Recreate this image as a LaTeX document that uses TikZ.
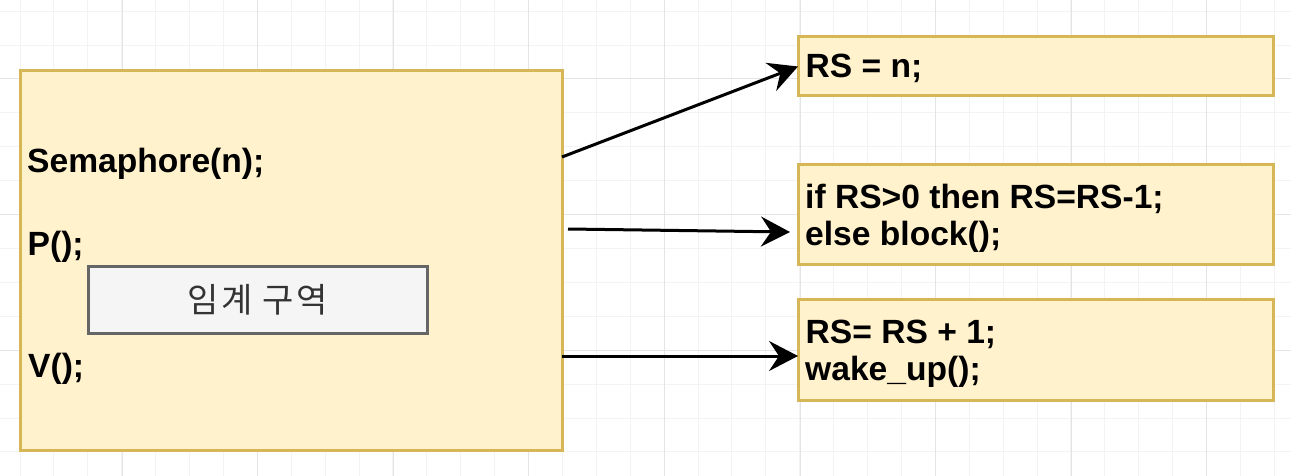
\documentclass[tikz,border=0pt]{standalone}
\usepackage{fontspec}
\setmainfont{Liberation Sans}
\newfontfamily\krfont[LetterSpace=7.5]{Noto Sans CJK KR}
\usetikzlibrary{arrows.meta}
\definecolor{boxfill}{HTML}{FFF2CC}
\definecolor{boxline}{HTML}{D6B656}
\definecolor{crfill}{HTML}{F5F5F5}
\definecolor{crline}{HTML}{666666}
\definecolor{crtext}{HTML}{333333}
\definecolor{gridminor}{HTML}{F3F3F3}
\definecolor{gridmajor}{HTML}{E4E4E4}
\begin{document}
\begin{tikzpicture}[x=1pt,y=-1pt,
  ybox/.style={draw=boxline, fill=boxfill, line width=3pt, anchor=north west, inner sep=0pt, outer sep=0pt},
  crbox/.style={draw=crline, fill=crfill, line width=3pt, anchor=north west, inner sep=0pt, outer sep=0pt,
    text=crtext, font=\krfont\fontsize{34}{40}\selectfont},
  code/.style={font=\fontsize{33.6}{37}\selectfont\bfseries, anchor=base west, inner sep=0pt},
  conn/.style={line width=3pt, -{Stealth[length=29pt,width=30pt,inset=10pt]}},
  gmin/.style={draw=gridminor, line width=1pt},
  gmaj/.style={draw=gridmajor, line width=1pt}]
\useasboundingbox (0,0) rectangle (1291,476);
\fill[white] (0,0) rectangle (1291,476);
% grid
\foreach \k [evaluate=\k as \xx using 20+\k*33.9] in {0,...,37} {\draw[gmin] (\xx,0) -- (\xx,476);}
\foreach \k [evaluate=\k as \yy using 11.2+\k*33.9] in {0,...,13} {\draw[gmin] (0,\yy) -- (1291,\yy);}
\foreach \k [evaluate=\k as \xx using 122+\k*135.6] in {0,...,8} {\draw[gmaj] (\xx,0) -- (\xx,476);}
\foreach \k [evaluate=\k as \yy using 79+\k*135.6] in {0,...,2} {\draw[gmaj] (0,\yy) -- (1291,\yy);}
% boxes
\node[ybox, minimum width=542pt, minimum height=379pt] (sem) at (20,71) {};
\node[crbox, minimum width=339pt, minimum height=67pt] (crit) at (88,266) {임계 구역};
\node[ybox, minimum width=475pt, minimum height=59pt] (box1) at (798,37) {};
\node[ybox, minimum width=475pt, minimum height=99pt] (box2) at (798,165) {};
\node[ybox, minimum width=475pt, minimum height=101pt] (box3) at (798,299) {};
% texts
\node[code] (tsem) at (27,173) {Semaphore(n);};
\node[code] (tp) at (27.5,255) {P();};
\node[code] (tv) at (28,377) {V();};
\node[code] (t1) at (805.5,78) {RS = n;};
\node[code] (t2a) at (805,208) {if RS>0 then RS=RS-1;};
\node[code] (t2b) at (805,245) {else block();};
\node[code] (t3a) at (805.5,343) {RS= RS + 1;};
\node[code] (t3b) at (805,380) {wake\_up();};
% connectors
\draw[conn] ([yshift=103.5pt]sem.east) -- (box1.west);
\draw[conn] ([xshift=6pt,yshift=31.5pt]sem.east) -- ([xshift=-8pt,yshift=-17.5pt]box2.west);
\draw[conn] ([yshift=-95.5pt]sem.east) -- ([yshift=-6.5pt]box3.west);
\end{tikzpicture}
\end{document}
